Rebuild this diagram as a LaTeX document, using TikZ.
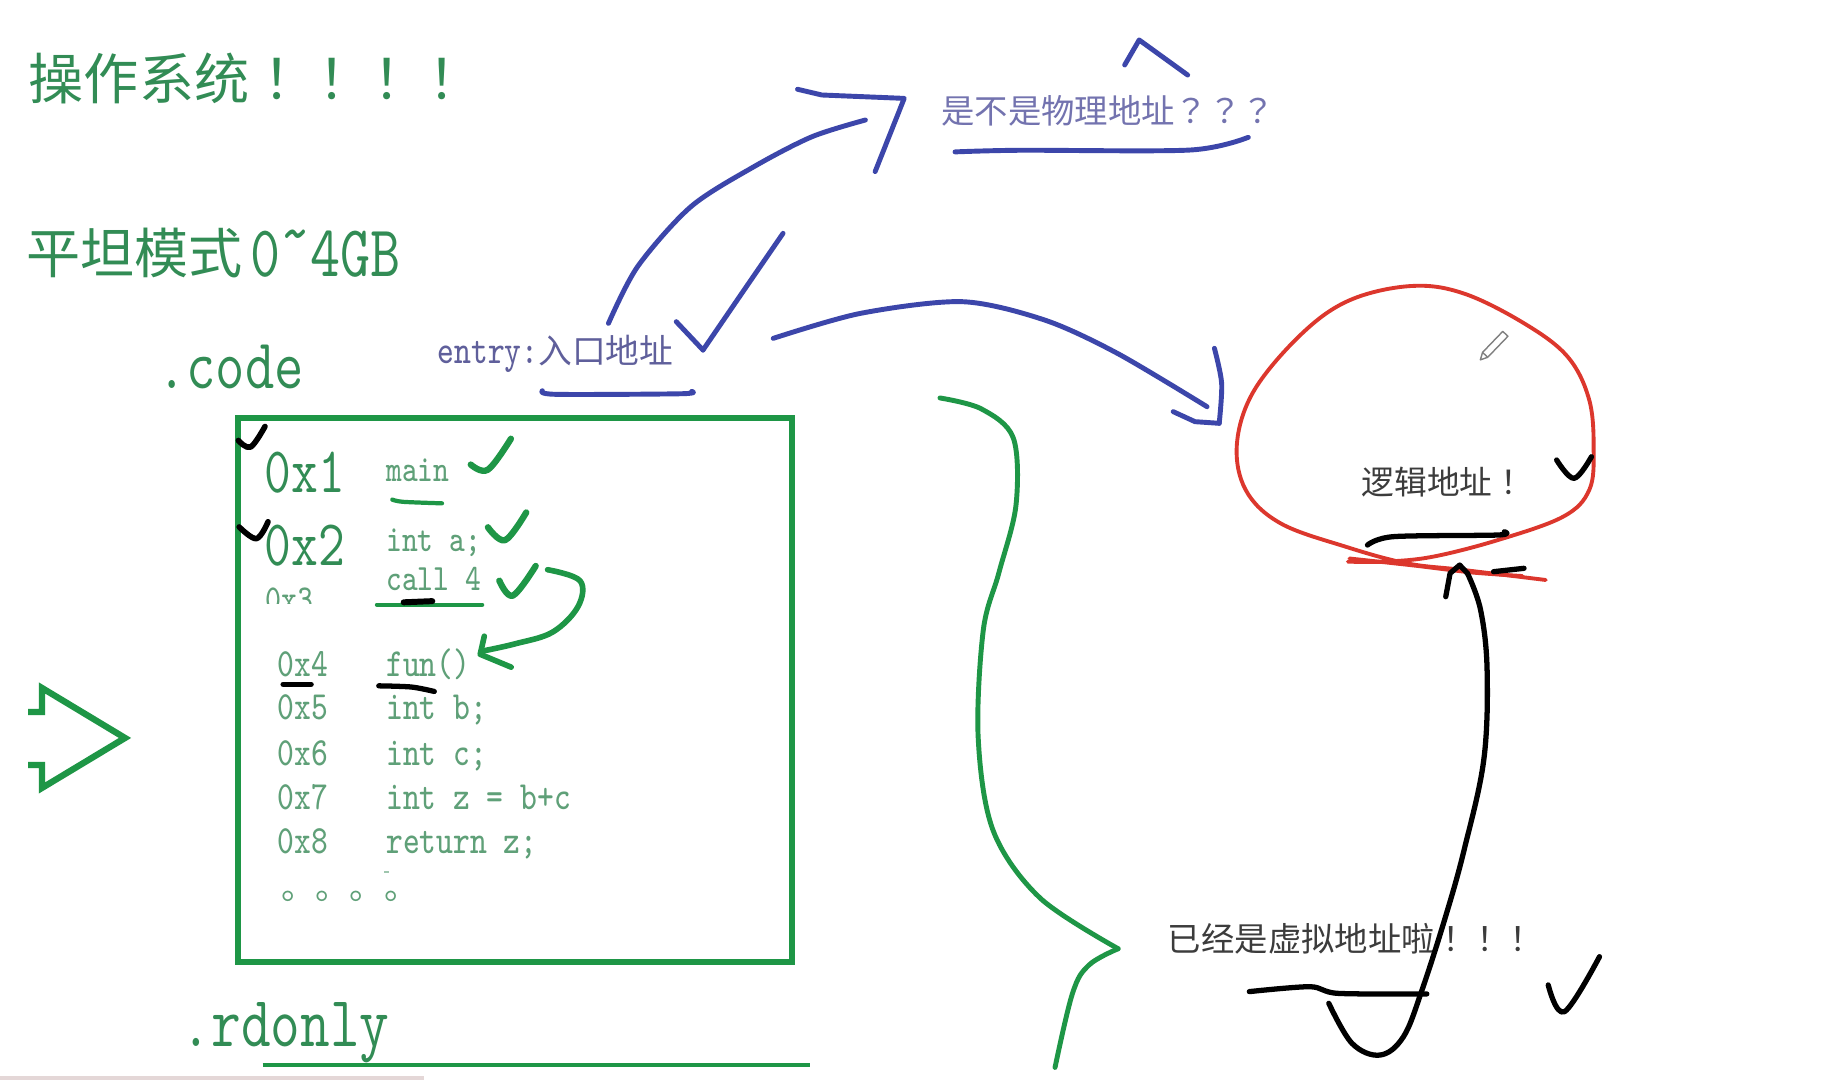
\documentclass[tikz,border=0pt]{standalone}
\usepackage{fontspec}
\newfontfamily\cjk{Noto Sans CJK SC}
\newfontfamily\cjktc{Noto Sans CJK TC}
\definecolor{gtext}{RGB}{50,140,85}
\definecolor{gcode}{RGB}{95,160,120}
\definecolor{gline}{RGB}{30,150,70}
\definecolor{bline}{RGB}{60,70,170}
\definecolor{btext}{RGB}{95,95,155}
\definecolor{qtext}{RGB}{115,115,175}
\definecolor{rline}{RGB}{220,55,45}
\definecolor{dtext}{RGB}{60,60,60}
\definecolor{edge}{RGB}{228,215,215}
\newcommand{\tl}[1]{\scalebox{1}[1.25]{#1}}
\newcommand{\fs}[1]{\fontsize{#1}{#1}\selectfont}
\newcommand{\pu}[1]{{\cjktc #1}}
\begin{document}
\begin{tikzpicture}[x=0.011684cm, y=-0.011684cm,
  txt/.style={inner sep=0pt, anchor=base west},
  gstroke/.style={gline, line width=1.4pt, line cap=round, line join=round},
  gtick/.style={gline, line width=1.8pt, line cap=round, line join=round},
  bstroke/.style={bline, line width=1.4pt, line cap=round, line join=round},
  kstroke/.style={black, line width=1.5pt, line cap=round, line join=round},
  rstroke/.style={rline, line width=1.1pt, line cap=round, line join=round}]
\useasboundingbox (0,0) rectangle (1568,924);
\fill[white] (0,0) rectangle (1568,924);

% ---------- headings ----------
\node[txt, gtext] (title) at (24,85) {\cjk\fs{15.7}操作系统\pu{！！！！}};
\node[txt, gtext] (flat) at (22,234) {\cjk\fs{15.4}平坦模式};
\node[txt, gtext] (flatnum) at (214,236.8) {\ttfamily\fs{16.6}\tl{0\raisebox{.28em}{\textasciitilde}4GB}};
\node[txt, gtext] (code) at (134,332.4) {\ttfamily\fs{16.2}\tl{.code}};
\node[txt, gtext] (rdonly) at (155,895.8) {\ttfamily\fs{16.4}\tl{.rdonly}};
\node[txt, btext] (entry) at (374,311) {\ttfamily\fs{9.1}\tl{entry:}\cjk\fs{9.6}入口地址};
\node[txt, qtext] (quest) at (805,106) {\cjk\fs{9.5}是不是物理地址\pu{？？？}};
\node[txt, dtext] (logic) at (1165,423) {\cjk\fs{9.3}逻辑地址\pu{！}};
\node[txt, dtext] (virt) at (999,814) {\cjk\fs{9.5}已经是虚拟地址啦\pu{！！！}};

% ---------- code box ----------
\draw[gline, line width=1.7pt] (204,358) rectangle (678,823);
\node[txt, gtext] (a1) at (226,421.3) {\ttfamily\fs{14.8}\tl{0x1}};
\node[txt, gcode] (c1) at (330,411.8) {\ttfamily\fs{8.45}\tl{main}};
\node[txt, gtext] (a2) at (226,484.4) {\ttfamily\fs{14.8}\tl{0x2}};
\node[txt, gcode] (c2) at (330,471.8) {\ttfamily\fs{8.45}\tl{int a;}};
\node[txt, gcode] (c3) at (330,505) {\ttfamily\fs{8.45}\tl{call 4}};
\begin{scope}
  \clip (200,490) rectangle (320,516.5);
  \node[txt, gcode] (a3) at (227,523) {\ttfamily\fs{8.65}\tl{0x3}};
\end{scope}
\node[txt, gcode] (a4) at (237,579.2) {\ttfamily\fs{9.1}\tl{0x4}};
\node[txt, gcode] (c4) at (330,579.2) {\ttfamily\fs{9.1}\tl{fun()}};
\node[txt, gcode] (a5) at (237,615.5) {\ttfamily\fs{9.1}\tl{0x5}};
\node[txt, gcode] (c5) at (330,615.5) {\ttfamily\fs{9.1}\tl{int b;}};
\node[txt, gcode] (a6) at (237,655) {\ttfamily\fs{9.1}\tl{0x6}};
\node[txt, gcode] (c6) at (330,655) {\ttfamily\fs{9.1}\tl{int c;}};
\node[txt, gcode] (a7) at (237,693) {\ttfamily\fs{9.1}\tl{0x7}};
\node[txt, gcode] (c7) at (330,693) {\ttfamily\fs{9.1}\tl{int z = b+c}};
\node[txt, gcode] (a8) at (237,730.8) {\ttfamily\fs{9.1}\tl{0x8}};
\node[txt, gcode] (c8) at (330,730.8) {\ttfamily\fs{9.1}\tl{return z;}};
\node[txt, gcode] (dots) at (240,770) {\cjk\fs{9.8}。。。。};
\draw[gcode!60, line width=0.5pt] (329,746.6) -- (333,746.6);

% green marks inside box
\draw[gtick] plot[smooth, tension=0.6] coordinates {(402.9,397.6) (417.6,402) (437.3,375.5)};
\draw[gtick] plot[smooth, tension=0.6] coordinates {(417.6,451.3) (432.3,462.3) (450.4,438.6)};
\draw[gtick] plot[smooth, tension=0.6] coordinates {(427.4,497) (438.9,509.8) (458.5,484.4)};
\draw[gline, line width=1.2pt, line cap=round] plot[smooth] coordinates {(335.7,427.6) (345,429.5) (378.3,430.8)};
\draw[gline, line width=1.2pt, line cap=round] (322.6,517.6) -- (412.7,517.6);
\draw[gstroke, line width=1.6pt] plot[smooth, tension=0.6] coordinates {(468.7,487.6) (496.4,497) (494.8,519) (473,541) (441,551) (414,557)};
\draw[gstroke, line width=1.6pt] (414.5,544.5) -- (411,560) -- (437.5,571);

% black marks inside box
\draw[kstroke, line width=1.7pt] (345.5,515.5) -- (370,514.5);
\draw[kstroke] (242.3,585.6) -- (266.3,585.6);
\draw[kstroke] plot[smooth] coordinates {(324.2,587) (352.1,588) (371.7,591.8)};
\draw[kstroke, line width=1.6pt] plot[smooth, tension=0.6] coordinates {(204,377) (214.5,382.6) (226.8,365)};
\draw[kstroke, line width=1.6pt] plot[smooth, tension=0.6] coordinates {(204.7,451) (219.5,461) (229.4,446.6)};

% green outline arrow (left)
\draw[gline, line width=1.8pt, line join=miter] (24,609.4) -- (35.9,609.4) -- (35.9,588.8) -- (107,631.6) -- (35.9,674.4) -- (35.9,654.7) -- (24,654.7);

% underline of .rdonly
\draw[gline, line width=1.1pt] (224.8,911.5) -- (693.3,911.5);

% big green curve
\draw[gstroke] plot[smooth, tension=0.55] coordinates {(804.5,340.6) (840,350) (867.3,374.9) (869.6,432.2) (855,490) (841.6,539.2) (837.2,630.9) (850.1,711.1) (890.1,768.5) (957,812)};
\draw[gstroke] plot[smooth, tension=0.6] coordinates {(957,812) (932,826) (918,850) (903,913.6)};

% ---------- blue strokes ----------
\draw[bstroke] plot[smooth] coordinates {(520.8,276.7) (545.7,228.2) (591.3,176.9) (645.2,142.7) (695,117) (740.7,102.7)};
\draw[bstroke] (682.6,76.4) -- (703.4,81.3) -- (773.9,84.2) -- (749,146.9);
\draw[bstroke] (578.8,275.3) -- (601.7,299.6);
\draw[bstroke] plot[smooth] coordinates {(601.7,299.6) (637,248) (670.2,199.7)};
\draw[bstroke] plot[smooth] coordinates {(661.8,289.6) (736.5,268.2) (823.6,258.2) (894.1,273.9) (956.3,302.4) (1033.1,348.1)};
\draw[bstroke] plot[smooth] coordinates {(1039.4,298.1) (1045.6,328.1) (1043.5,362.3)};
\draw[bstroke] (1043.5,362.3) -- (1022.8,360.9) -- (1004.1,352.3);
\draw[bstroke] plot[smooth] coordinates {(464.2,334.4) (476,337.5) (583,337) (592,335)};
\draw[bstroke] plot[smooth] coordinates {(817.4,130) (873.4,128.6) (1018.6,128.4) (1068.4,117.5)};
\draw[bstroke] (962.6,55.6) -- (975,34.2) -- (1016.5,64.2);

% ---------- red loop ----------
\draw[rstroke] plot[smooth, tension=0.6] coordinates {(1323,496.4) (1252.3,487.8) (1203.9,482.1) (1151.7,467.9) (1096,447.9) (1066.2,419.4) (1058.7,379.4) (1073.6,333.8) (1114.5,285.3) (1155.5,256.8) (1207.6,244.8) (1252.3,251) (1304.4,276.7) (1341.7,305.3) (1360.2,342.3) (1364,385.1) (1360.2,419.4) (1337.9,442.2) (1282.1,462.2) (1226.2,476.5) (1185.3,480.7) (1153.6,480.7)};
\draw[rstroke] plot[smooth] coordinates {(1155,478) (1210,484) (1260,490) (1303,493)};

% pencil cursor
\draw[gray, line width=0.4pt, fill=white, line join=round] (1267,308) -- (1273.3,305.8) -- (1290.6,287.8) -- (1286.2,283.6) -- (1268.9,301.6) -- cycle;
\draw[gray, line width=0.4pt] (1273.3,305.8) -- (1268.9,301.6);

% ---------- black strokes ----------
\draw[kstroke] plot[smooth, tension=0.6] coordinates {(1332.3,393.7) (1347.2,409.4) (1362.1,390.9)};
\draw[kstroke] plot[smooth] coordinates {(1170.4,466.5) (1192.7,459.3) (1282.1,457.9) (1287.6,455.1)};
\draw[kstroke] (1237.4,510.7) -- (1241.1,490.7) -- (1249.3,483.6) -- (1256,490.7);
\draw[kstroke] (1278.3,489.3) -- (1304.4,486.4);
\draw[kstroke] plot[smooth, tension=0.6] coordinates {(1256,490.7) (1267.2,522) (1272.8,573.4) (1270,650) (1253.1,727.5) (1237.2,784.6) (1217.1,847.3) (1201.2,887.3) (1181.2,903) (1157.2,893) (1137.3,858.7)};
\draw[kstroke] plot[smooth] coordinates {(1069.3,848.7) (1121.2,844.5) (1145.2,850.2) (1221.2,850.7)};
\draw[kstroke] plot[smooth, tension=0.6] coordinates {(1325.1,843) (1339,865.9) (1369,818.8)};

% bottom edge remnant
\draw[edge, line width=1pt] (0,922.6) -- (363,922.6);
\end{tikzpicture}
\end{document}
